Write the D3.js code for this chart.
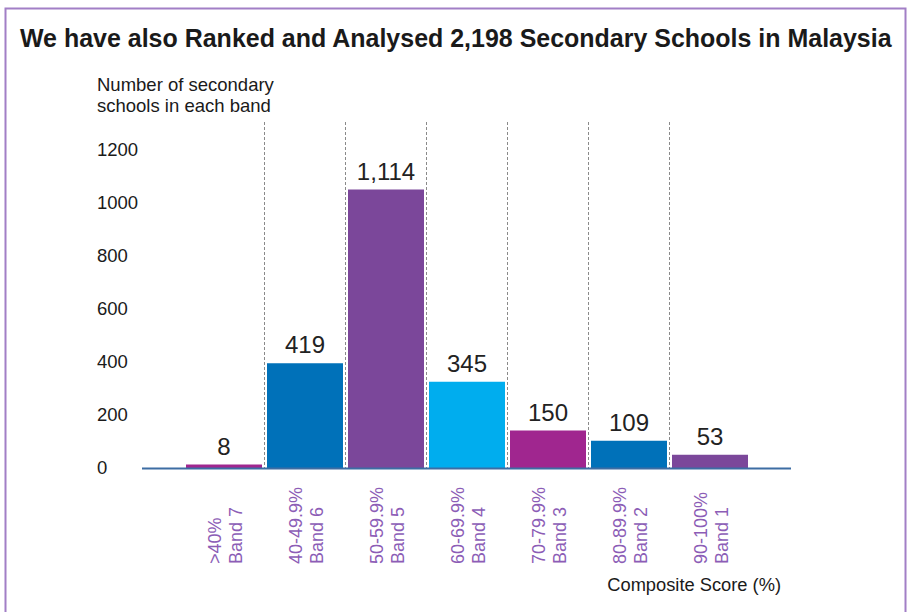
<!DOCTYPE html>
<html>
<head>
<meta charset="utf-8">
<script src="https://cdn.jsdelivr.net/npm/d3@7"></script>
<style>
html,body{margin:0;padding:0;background:#fff;}
svg{display:block;font-family:"Liberation Sans",Arial,Helvetica,sans-serif;}
</style>
</head>
<body>
<svg id="chart" width="907" height="612"></svg>
<script>
const bands = ["Band 7","Band 6","Band 5","Band 4","Band 3","Band 2","Band 1"];
const ranges = [">40%","40-49.9%","50-59.9%","60-69.9%","70-79.9%","80-89.9%","90-100%"];
const counts = [8,419,1114,345,150,109,53];
const valueLabels = ["8","419","1,114","345","150","109","53"];
const barColors = ["#a0268f","#0071b9","#7b479a","#00adee","#a0268f","#0071b9","#7b479a"];
const yTicks = [0,200,400,600,800,1000,1200];
const title = "We have also Ranked and Analysed 2,198 Secondary Schools in Malaysia";
const yTitle = ["Number of secondary","schools in each band"];
const xTitle = "Composite Score (%)";

const svg = d3.select("#chart");

// frame
svg.append("rect").attr("x",5.5).attr("y",8.5).attr("width",900).attr("height",640)
  .attr("fill","none").attr("stroke","#a27fc6").attr("stroke-width",2);

// title, horizontally condensed to fit like the reference
const tg = svg.append("g");
const tt = tg.append("text").attr("x",0).attr("y",0).attr("font-size",26).attr("font-weight","bold")
  .attr("fill","#1a1a1a").text(title);
const natural = tt.node().getComputedTextLength();
const sx = Math.min(1, 872 / natural);
tg.attr("transform",`translate(20,47) scale(${sx},1)`);

const x = d3.scaleBand().domain(bands).range([183.5,750.5]).paddingInner(5/81).paddingOuter(2.5/81);
const yBar = d3.scaleLinear().domain([0,1200]).range([468,168]);
const yTick = d3.scaleLinear().domain([0,1200]).range([468,150]);

const data = bands.map((b,i)=>({band:b,range:ranges[i],value:counts[i],label:valueLabels[i],color:barColors[i]}));

// y axis title
svg.append("text").attr("x",97).attr("y",91).attr("font-size",18.5).attr("fill","#1a1a1a")
  .selectAll("tspan").data(yTitle).join("tspan").attr("x",97).attr("dy",(d,i)=>i?21:0).text(d=>d);

// y tick labels via axis
const yAxis = svg.append("g").attr("transform","translate(97,0)")
  .call(d3.axisRight(yTick).tickValues(yTicks).tickSize(0).tickPadding(0).tickFormat(d3.format("d")));
yAxis.select(".domain").remove();
yAxis.selectAll("text").attr("font-size",18.5).attr("fill","#1a1a1a").attr("font-family","Liberation Sans, Arial, sans-serif");

// dashed separators
const seps = bands.slice(0,-1);
svg.append("g").selectAll("line").data(seps).join("line")
  .attr("x1",d=>x(d)+x.bandwidth()+2.5).attr("x2",d=>x(d)+x.bandwidth()+2.5)
  .attr("y1",122).attr("y2",yBar(0))
  .attr("stroke","#8a8a8a").attr("stroke-width",1).attr("stroke-dasharray","3,2");

// bars
svg.append("g").selectAll("rect").data(data).join("rect")
  .attr("x",d=>x(d.band)).attr("width",x.bandwidth())
  .attr("y",d=>Math.min(yBar(d.value), yBar(0)-3.5))
  .attr("height",d=>yBar(0)-Math.min(yBar(d.value), yBar(0)-3.5))
  .attr("fill",d=>d.color);

// value labels
svg.append("g").selectAll("text").data(data).join("text")
  .attr("x",d=>x(d.band)+x.bandwidth()/2).attr("y",d=>Math.min(yBar(d.value), yBar(0)-3.5)-10)
  .attr("text-anchor","middle").attr("font-size",24).attr("fill","#222").text(d=>d.label);

// baseline
svg.append("line").attr("x1",142).attr("x2",791).attr("y1",468.5).attr("y2",468.5)
  .attr("stroke","#3d6da3").attr("stroke-width",2);

// x category labels (rotated)
const xl = svg.append("g").selectAll("g").data(data).join("g")
  .attr("transform",d=>`translate(${x(d.band)+x.bandwidth()/2},564) rotate(-90)`);
xl.append("text").attr("x",0).attr("y",-3).attr("font-size",18).attr("fill","#8c5db6").text(d=>d.range);
xl.append("text").attr("x",0).attr("y",18).attr("font-size",18).attr("fill","#8c5db6").text(d=>d.band);

svg.append("text").attr("x",781).attr("y",591).attr("text-anchor","end").attr("font-size",18.3)
  .attr("fill","#1a1a1a").text(xTitle);
</script>
</body>
</html>
